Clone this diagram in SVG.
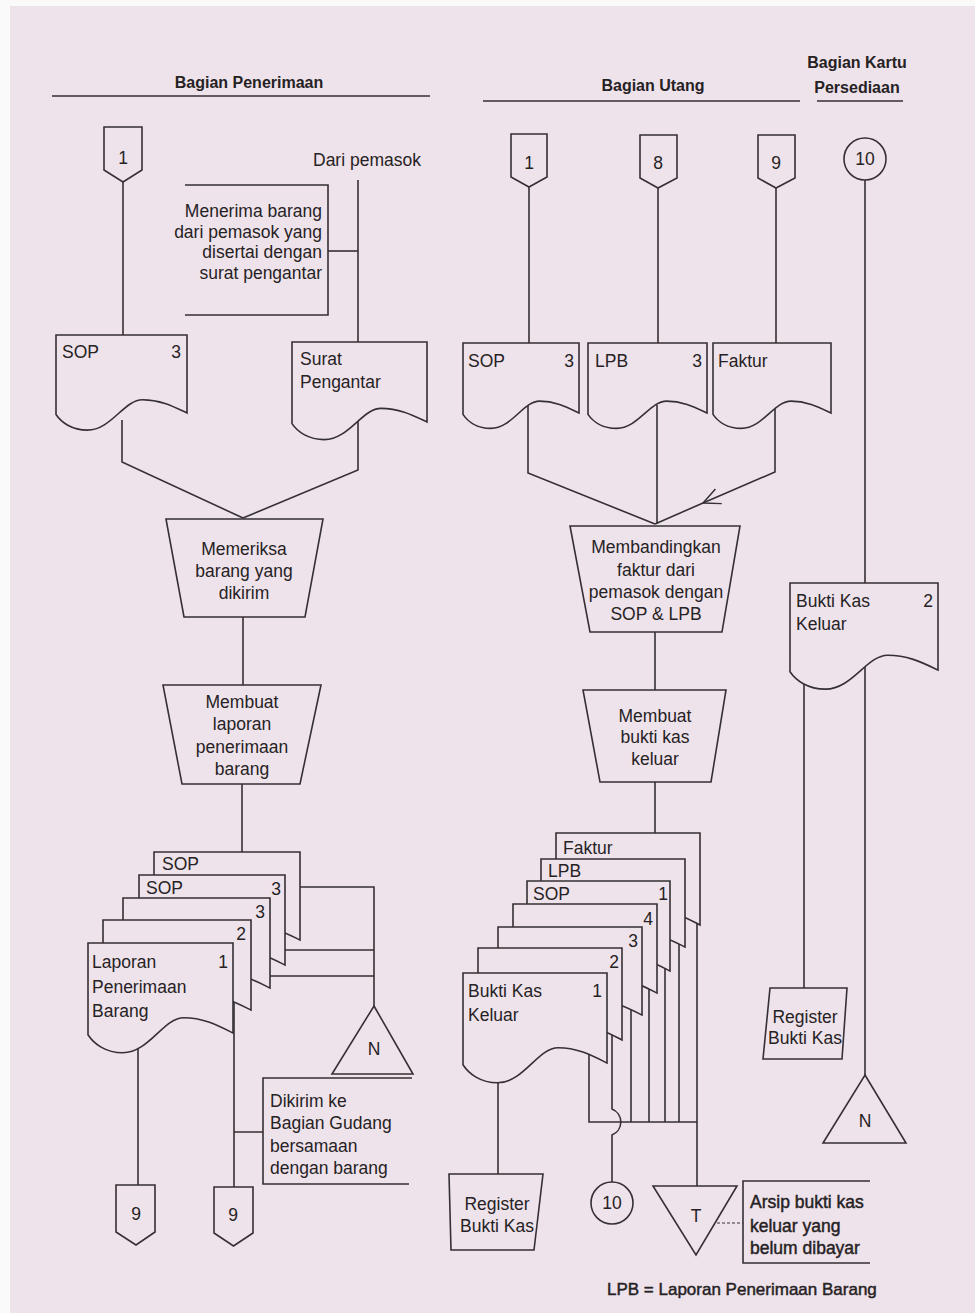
<svg xmlns="http://www.w3.org/2000/svg" xmlns:xlink="http://www.w3.org/1999/xlink" width="975" height="1313" viewBox="0 0 975 1313">
<defs>
<style>
.s{fill:none;stroke:#353035;stroke-width:1.6}
.d{fill:none;stroke:#353035;stroke-width:1;stroke-dasharray:3 2}
.n{fill:#efe3eb;stroke:#353035;stroke-width:1.6}
.t{font-family:"Liberation Sans",Arial,"DejaVu Sans",sans-serif;font-size:17.5px;fill:#262224}
.b{font-weight:700;font-size:16px}
.sb{stroke:#262224;stroke-width:0.45}
.m{text-anchor:middle}
.e{text-anchor:end}
</style>
<path id="doc" d="M0,0 H100 V100 C90,92 80,83 66,83 C52,83 42,122 24,122 C12,122 4,112 0,102 Z" vector-effect="non-scaling-stroke"/>
<marker id="arr" viewBox="0 0 18 18" refX="17" refY="9" markerWidth="18" markerHeight="18" markerUnits="userSpaceOnUse" orient="auto">
<path d="M0,1 L17,9 L0,17" fill="none" stroke="#353035" stroke-width="1.5"/>
</marker>
</defs>
<rect x="0" y="0" width="975" height="1313" fill="#fbfafb"/>
<rect x="10" y="6" width="965" height="1307" fill="#efe3eb"/>

<g id="headers">
<text x="249" y="88" class="t b m">Bagian Penerimaan</text>
<text x="653" y="91" class="t b m">Bagian Utang</text>
<text x="857" y="68" class="t b m">Bagian Kartu</text>
<text x="857" y="93" class="t b m">Persediaan</text>
<path class="s" d="M52,96 H430 M483,101 H800 M817,101 H903"/>
</g>

<g id="connectors">
<path class="s" d="M123,182 V340"/>
<path class="s" d="M358,180 V345"/>
<path class="s" d="M328,251 H358"/>
<path class="s" d="M122,420 V462 L243,518"/>
<path class="s" d="M358,420 V470 L243,518"/>
<path class="s" d="M243,617 V685"/>
<path class="s" d="M242,784 V852"/>
<path class="s" d="M300,887 H374 V1006 M285,950 H374 M270,976 H374"/>
<path class="s" d="M234,1000 V1187 M234,1132 H263"/>
<path class="s" d="M138,1040 V1185"/>
<path class="s" d="M529,187 V345 M658,188 V345 M776,188 V345"/>
<path class="s" d="M528,405 V473 L655,524"/>
<path class="s" d="M657,405 V524"/>
<path class="s" d="M775,405 V472 L703,503" marker-end="url(#arr)"/>
<path class="s" d="M703,503 L655,524"/>
<path class="s" d="M655,632 V690"/>
<path class="s" d="M655,782 V835"/>
<path class="s" d="M865,180 V585 M865,650 V1075"/>
<path class="s" d="M804,655 V988"/>
<path class="s" d="M589,1040 V1122 H697 M631,1000 V1122 M649,985 V1122 M665,965 V1122 M679,940 V1122 M697,915 V1186"/>
<path class="s" d="M612,1030 V1109 A14,14 0 0 1 612,1135 V1182"/>
<path class="s" d="M498,1070 V1174"/>
<path class="d" d="M717,1223 H743"/>
</g>

<g id="conn-1-left"><path class="n" d="M104,127 H142 V170 L123,182 L104,170 Z"/><text x="123" y="164" class="t m">1</text></g>
<g id="sop-left"><use href="#doc" class="n" transform="translate(56,335) scale(1.31,0.78)"/><text x="62" y="358" class="t">SOP</text><text x="181" y="358" class="t e">3</text></g>
<g id="dari-pemasok"><text x="313" y="166" class="t">Dari pemasok</text></g>
<g id="note-menerima"><path class="s" d="M185,185 H328 V315 H185"/>
<text class="t e"><tspan x="322" y="217">Menerima barang</tspan><tspan x="322" y="238">dari pemasok yang</tspan><tspan x="322" y="258">disertai dengan</tspan><tspan x="322" y="279">surat pengantar</tspan></text></g>
<g id="surat-pengantar"><use href="#doc" class="n" transform="translate(292,342) scale(1.35,0.80)"/><text class="t"><tspan x="300" y="365">Surat</tspan><tspan x="300" y="388">Pengantar</tspan></text></g>
<g id="memeriksa"><path class="n" d="M166,519 H323 L305,617 H184 Z"/><text class="t m"><tspan x="244" y="555">Memeriksa</tspan><tspan x="244" y="577">barang yang</tspan><tspan x="244" y="599">dikirim</tspan></text></g>
<g id="membuat-lpb"><path class="n" d="M163,685 H321 L300,784 H182 Z"/><text class="t m"><tspan x="242" y="708">Membuat</tspan><tspan x="242" y="730">laporan</tspan><tspan x="242" y="753">penerimaan</tspan><tspan x="242" y="775">barang</tspan></text></g>

<g id="stack-left">
<use href="#doc" class="n" transform="translate(154,852) scale(1.46,0.88)"/><text x="162" y="870" class="t">SOP</text>
<use href="#doc" class="n" transform="translate(139,875) scale(1.46,0.90)"/><text x="146" y="894" class="t">SOP</text><text x="281" y="895" class="t e">3</text>
<use href="#doc" class="n" transform="translate(123,898) scale(1.47,0.90)"/><text x="265" y="918" class="t e">3</text>
<use href="#doc" class="n" transform="translate(103,920) scale(1.48,0.90)"/><text x="246" y="940" class="t e">2</text>
<use href="#doc" class="n" transform="translate(88,943) scale(1.45,0.90)"/><text x="228" y="968" class="t e">1</text>
<text class="t"><tspan x="92" y="968">Laporan</tspan><tspan x="92" y="993">Penerimaan</tspan><tspan x="92" y="1017">Barang</tspan></text>
</g>
<g id="arsip-n-left"><path class="n" d="M374,1006 L413,1074 H332 Z"/><text x="374" y="1055" class="t m">N</text></g>
<g id="note-dikirim"><path class="s" d="M412,1078 H263 V1184 H409"/>
<text class="t"><tspan x="270" y="1107">Dikirim ke</tspan><tspan x="270" y="1129">Bagian Gudang</tspan><tspan x="270" y="1152">bersamaan</tspan><tspan x="270" y="1174">dengan barang</tspan></text></g>
<g id="conn-9-a"><path class="n" d="M116,1185 H155 V1232 L136,1245 L116,1232 Z"/><text x="136" y="1220" class="t m">9</text></g>
<g id="conn-9-b"><path class="n" d="M214,1187 H253 V1233 L233.5,1246 L214,1233 Z"/><text x="233" y="1221" class="t m">9</text></g>

<g id="conn-1-right"><path class="n" d="M511,134 H547 V177 L529,187 L511,177 Z"/><text x="529" y="169" class="t m">1</text></g>
<g id="conn-8"><path class="n" d="M640,135 H677 V178 L658,188 L640,178 Z"/><text x="658" y="169" class="t m">8</text></g>
<g id="conn-9-top"><path class="n" d="M758,135 H795 V178 L776,188 L758,178 Z"/><text x="776" y="169" class="t m">9</text></g>
<g id="conn-10-top"><circle class="n" cx="865" cy="159" r="21"/><text x="865" y="165" class="t m">10</text></g>
<g id="sop-right"><use href="#doc" class="n" transform="translate(463,343) scale(1.16,0.70)"/><text x="468" y="367" class="t">SOP</text><text x="574" y="367" class="t e">3</text></g>
<g id="lpb"><use href="#doc" class="n" transform="translate(588,343) scale(1.19,0.70)"/><text x="595" y="367" class="t">LPB</text><text x="702" y="367" class="t e">3</text></g>
<g id="faktur"><use href="#doc" class="n" transform="translate(713,343) scale(1.18,0.70)"/><text x="718" y="367" class="t">Faktur</text></g>
<g id="membandingkan"><path class="n" d="M570,526 H740 L722,632 H590 Z"/><text class="t m"><tspan x="656" y="553">Membandingkan</tspan><tspan x="656" y="576">faktur dari</tspan><tspan x="656" y="598">pemasok dengan</tspan><tspan x="656" y="620">SOP &amp; LPB</tspan></text></g>
<g id="membuat-bkk"><path class="n" d="M583,690 H726 L711,782 H600 Z"/><text class="t m"><tspan x="655" y="722">Membuat</tspan><tspan x="655" y="743">bukti kas</tspan><tspan x="655" y="765">keluar</tspan></text></g>

<g id="stack-right">
<use href="#doc" class="n" transform="translate(556,833) scale(1.44,0.92)"/><text x="563" y="854" class="t">Faktur</text>
<use href="#doc" class="n" transform="translate(541,859) scale(1.44,0.88)"/><text x="548" y="877" class="t">LPB</text>
<use href="#doc" class="n" transform="translate(527,881) scale(1.43,0.90)"/><text x="533" y="900" class="t">SOP</text><text x="668" y="900" class="t e">1</text>
<use href="#doc" class="n" transform="translate(513,904) scale(1.44,0.89)"/><text x="653" y="925" class="t e">4</text>
<use href="#doc" class="n" transform="translate(498,927) scale(1.44,0.88)"/><text x="638" y="947" class="t e">3</text>
<use href="#doc" class="n" transform="translate(478,948) scale(1.44,0.92)"/><text x="619" y="968" class="t e">2</text>
<use href="#doc" class="n" transform="translate(463,973) scale(1.44,0.90)"/><text x="602" y="997" class="t e">1</text>
<text class="t"><tspan x="468" y="997">Bukti Kas</tspan><tspan x="468" y="1021">Keluar</tspan></text>
</g>
<g id="register-left"><path class="n" d="M449,1174 H543 L534,1250 H451 Z"/><text class="t m"><tspan x="497" y="1210">Register</tspan><tspan x="497" y="1232">Bukti Kas</tspan></text></g>
<g id="conn-10-bottom"><circle class="n" cx="612" cy="1203" r="21"/><text x="612" y="1209" class="t m">10</text></g>
<g id="arsip-t"><path class="n" d="M653,1186 H737 L696,1255 Z"/><text x="696" y="1222" class="t m">T</text></g>
<g id="note-arsip"><path class="s" d="M870,1181 H743 V1263 H870"/>
<text class="t sb"><tspan x="750" y="1208">Arsip bukti kas</tspan><tspan x="750" y="1232">keluar yang</tspan><tspan x="750" y="1254">belum dibayar</tspan></text></g>
<g id="legend"><text x="607" y="1295" class="t sb" style="font-size:17px">LPB = Laporan Penerimaan Barang</text></g>

<g id="bkk-2"><use href="#doc" class="n" transform="translate(790,583) scale(1.48,0.87)"/><text class="t"><tspan x="796" y="607">Bukti Kas</tspan><tspan x="796" y="630">Keluar</tspan></text><text x="933" y="607" class="t e">2</text></g>
<g id="register-right"><path class="n" d="M770,988 H847 L842,1059 H763 Z"/><text class="t m"><tspan x="805" y="1023">Register</tspan><tspan x="805" y="1044">Bukti Kas</tspan></text></g>
<g id="arsip-n-right"><path class="n" d="M865,1075 L906,1143 H823 Z"/><text x="865" y="1127" class="t m">N</text></g>
</svg>
